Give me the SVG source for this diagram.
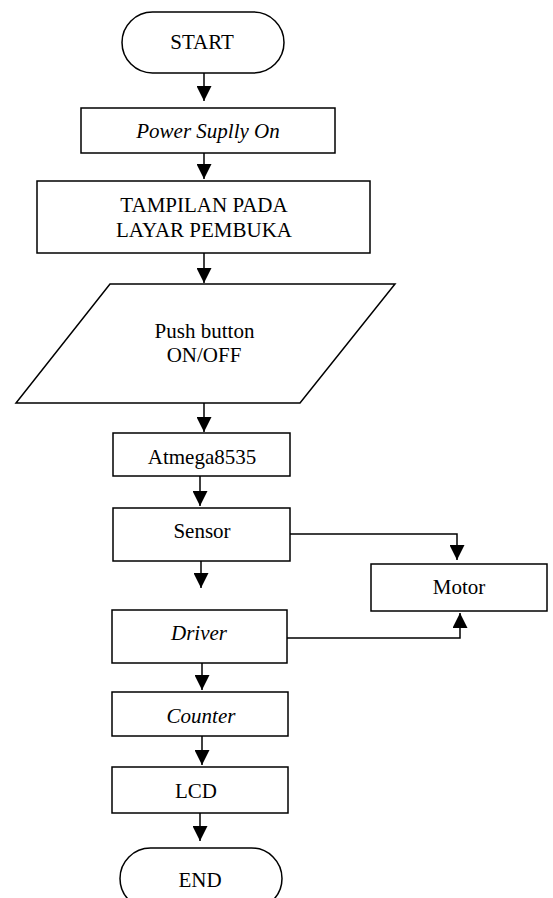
<svg xmlns="http://www.w3.org/2000/svg" width="553" height="898" viewBox="0 0 553 898">
<style>
.s{fill:#fff;stroke:#000;stroke-width:1.5}
.t{font-family:"Liberation Serif","Times New Roman",serif;font-size:21px;fill:#000;text-anchor:middle}
.i{font-style:italic}
.c{fill:none;stroke:#000;stroke-width:1.5}
</style>
<defs>
<marker id="ah" markerUnits="userSpaceOnUse" markerWidth="15" markerHeight="15" refX="14" refY="7" orient="auto" viewBox="0 0 14 14">
<path d="M0,0 L14,7 L0,14 z" fill="#000"/>
</marker>
</defs>
<rect width="553" height="898" fill="#fff"/>
<g id="connectors">
<path class="c" d="M204,73 V101" marker-end="url(#ah)"/>
<path class="c" d="M204,153 V179" marker-end="url(#ah)"/>
<path class="c" d="M204,253 V283" marker-end="url(#ah)"/>
<path class="c" d="M204,403 V432" marker-end="url(#ah)"/>
<path class="c" d="M200,476 V506" marker-end="url(#ah)"/>
<path class="c" d="M201,561 V588" marker-end="url(#ah)"/>
<path class="c" d="M202,663 V690" marker-end="url(#ah)"/>
<path class="c" d="M202,736 V765" marker-end="url(#ah)"/>
<path class="c" d="M200,813 V841" marker-end="url(#ah)"/>
<path class="c" d="M290,534 H457 V560" marker-end="url(#ah)"/>
<path class="c" d="M287,638 H460 V613" marker-end="url(#ah)"/>
</g>
<g id="start">
<rect class="s" x="122" y="12" width="162" height="61" rx="30.5"/>
<text class="t" x="202" y="48.5">START</text>
</g>
<g id="power">
<rect class="s" x="81" y="108" width="254" height="45"/>
<text class="t i" x="208" y="138">Power Suplly On</text>
</g>
<g id="tampilan">
<rect class="s" x="37" y="181" width="333" height="72"/>
<text class="t" x="204" y="211.5">TAMPILAN PADA</text>
<text class="t" x="204" y="236.5">LAYAR PEMBUKA</text>
</g>
<g id="pushbutton">
<polygon class="s" points="110,284 395,284 300,403 16,403"/>
<text class="t" x="204.5" y="337.5">Push button</text>
<text class="t" x="204" y="362">ON/OFF</text>
</g>
<g id="atmega">
<rect class="s" x="113" y="433" width="177" height="43"/>
<text class="t" x="202" y="464">Atmega8535</text>
</g>
<g id="sensor">
<rect class="s" x="113" y="508" width="177" height="53"/>
<text class="t" x="202" y="538">Sensor</text>
</g>
<g id="motor">
<rect class="s" x="371" y="564" width="176" height="47"/>
<text class="t" x="459" y="594">Motor</text>
</g>
<g id="driver">
<rect class="s" x="112" y="610" width="175" height="53"/>
<text class="t i" x="199" y="640">Driver</text>
</g>
<g id="counter">
<rect class="s" x="112" y="692" width="176" height="44"/>
<text class="t i" x="201" y="722.5">Counter</text>
</g>
<g id="lcd">
<rect class="s" x="112" y="767" width="176" height="46"/>
<text class="t" x="196" y="798">LCD</text>
</g>
<g id="end">
<rect class="s" x="120" y="848" width="162" height="61" rx="30.5"/>
<text class="t" x="200" y="886.5">END</text>
</g>
</svg>
